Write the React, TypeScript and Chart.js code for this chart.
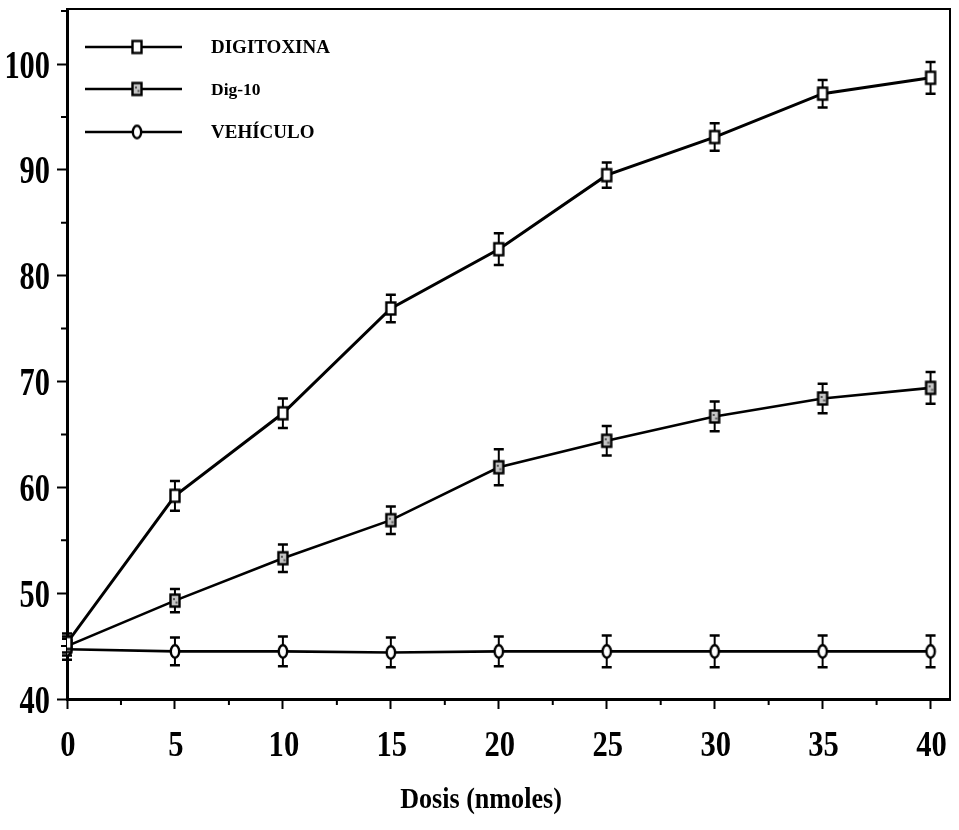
import React, { useEffect, useRef } from 'react';
import { Chart, registerables } from 'chart.js';

Chart.register(...registerables);

// ---- data ----
const doses = [0, 5, 10, 15, 20, 25, 30, 35, 40];
const seriesNames = ['DIGITOXINA', 'Dig-10', 'VEHÍCULO'];
const digitoxina = [45.3, 59.2, 67.0, 76.9, 82.5, 89.5, 93.1, 97.2, 98.7];
const digitoxinaErr = [0.9, 1.4, 1.4, 1.3, 1.5, 1.2, 1.3, 1.3, 1.5];
const dig10 = [45.0, 49.3, 53.3, 56.9, 61.9, 64.4, 66.7, 68.4, 69.4];
const dig10Err = [0.9, 1.1, 1.3, 1.3, 1.7, 1.4, 1.4, 1.4, 1.5];
const vehiculo = [44.7, 44.5, 44.5, 44.4, 44.5, 44.5, 44.5, 44.5, 44.5];
const vehiculoErr = [1.0, 1.3, 1.4, 1.4, 1.4, 1.5, 1.5, 1.5, 1.5];
const yTickValues = [40, 50, 60, 70, 80, 90, 100];
const xTickValues = [0, 5, 10, 15, 20, 25, 30, 35, 40];
const xTitle = 'Dosis (nmoles)';

const errors = [digitoxinaErr, dig10Err, vehiculoErr];
const FONT = '"Liberation Serif", "Times New Roman", serif';

function makeMarker(kind: 'rect' | 'rectGray' | 'ellipse'): HTMLCanvasElement {
  const c = document.createElement('canvas');
  c.width = 14;
  c.height = 17;
  const g = c.getContext('2d')!;
  g.lineWidth = 2.4;
  g.strokeStyle = '#000';
  if (kind === 'ellipse') {
    g.fillStyle = '#fff';
    g.beginPath();
    g.ellipse(7, 8.5, 4.2, 6.2, 0, 0, Math.PI * 2);
    g.fill();
    g.stroke();
  } else {
    g.fillStyle = kind === 'rect' ? '#fff' : '#c4c4c4';
    g.fillRect(2.5, 2.5, 9, 12);
    g.strokeRect(2.5, 2.5, 9, 12);
    if (kind === 'rectGray') {
      g.fillStyle = '#555';
      g.fillRect(5, 6, 2, 2);
      g.fillRect(7.5, 9.5, 2, 2);
    }
  }
  return c;
}

function drawCondensed(
  ctx: CanvasRenderingContext2D,
  text: string,
  x: number,
  baseline: number,
  size: number,
  sx: number,
  align: 'left' | 'center' | 'right'
) {
  ctx.save();
  ctx.font = `bold ${size}px ${FONT}`;
  ctx.fillStyle = '#000';
  ctx.textBaseline = 'alphabetic';
  ctx.textAlign = align;
  ctx.translate(x, baseline);
  ctx.scale(sx, 1);
  ctx.fillText(text, 0, 0);
  ctx.restore();
}

const errorBarPlugin = {
  id: 'errorBars',
  beforeDatasetsDraw(chart: any) {
    const ctx = chart.ctx;
    const xs = chart.scales.x;
    const ys = chart.scales.y;
    chart.data.datasets.forEach((ds: any, i: number) => {
      const errs = errors[i];
      ds.data.forEach((p: any, j: number) => {
        const px = xs.getPixelForValue(p.x);
        const top = ys.getPixelForValue(p.y + errs[j]);
        const bot = ys.getPixelForValue(p.y - errs[j]);
        ctx.save();
        ctx.strokeStyle = '#000';
        ctx.lineWidth = 2;
        ctx.beginPath();
        ctx.moveTo(px, top);
        ctx.lineTo(px, bot);
        ctx.stroke();
        ctx.lineWidth = 2.5;
        ctx.beginPath();
        ctx.moveTo(px - 5, top);
        ctx.lineTo(px + 5, top);
        ctx.moveTo(px - 5, bot);
        ctx.lineTo(px + 5, bot);
        ctx.stroke();
        ctx.restore();
      });
    });
  },
};

const framePlugin = {
  id: 'frame',
  afterDraw(chart: any) {
    const { ctx, chartArea } = chart;
    const xs = chart.scales.x;
    const ys = chart.scales.y;
    ctx.save();
    ctx.strokeStyle = '#000';
    ctx.lineWidth = 2;
    ctx.beginPath();
    ctx.moveTo(chartArea.left, chartArea.top);
    ctx.lineTo(chartArea.right, chartArea.top);
    ctx.lineTo(chartArea.right, chartArea.bottom);
    ctx.stroke();
    // minor ticks
    ctx.beginPath();
    for (let v = 45; v < ys.max; v += 10) {
      const py = ys.getPixelForValue(v);
      ctx.moveTo(chartArea.left - 6, py);
      ctx.lineTo(chartArea.left, py);
    }
    for (let v = 2.5; v < xs.max; v += 5) {
      const px = xs.getPixelForValue(v);
      ctx.moveTo(px, chartArea.bottom);
      ctx.lineTo(px, chartArea.bottom + 6);
    }
    ctx.stroke();
    ctx.restore();

    // tick labels (tall, condensed bold serif), placed through the scales
    yTickValues.forEach((v) => {
      const py = ys.getPixelForValue(v);
      drawCondensed(ctx, String(v), chartArea.left - 17, py + 13.5, 40, 0.76, 'right');
    });
    xTickValues.forEach((v) => {
      const px = xs.getPixelForValue(v);
      drawCondensed(ctx, String(v), px + 1, chartArea.bottom + 57, 36, 0.85, 'center');
    });
    // axis title
    drawCondensed(ctx, xTitle, 481, 808, 29, 0.9, 'center');
  },
};

function makeLegendPlugin(markers: HTMLCanvasElement[]) {
  const rows = [47, 89, 132];
  const sizes = [19, 17.5, 19];
  return {
    id: 'insideLegend',
    afterDraw(chart: any) {
      const ctx = chart.ctx;
      ctx.save();
      seriesNames.forEach((name, i) => {
        const y = rows[i];
        ctx.strokeStyle = '#000';
        ctx.lineWidth = 2.5;
        ctx.beginPath();
        ctx.moveTo(85, y);
        ctx.lineTo(182, y);
        ctx.stroke();
        const m = markers[i];
        ctx.drawImage(m, 137 - m.width / 2, y - m.height / 2);
        drawCondensed(ctx, name, 211, y + sizes[i] * 0.33, sizes[i], 1, 'left');
      });
      ctx.restore();
    },
  };
}

export default function App() {
  const ref = useRef<HTMLCanvasElement | null>(null);

  useEffect(() => {
    if (!ref.current) return;
    const markers = [makeMarker('rect'), makeMarker('rectGray'), makeMarker('ellipse')];
    const seriesValues = [digitoxina, dig10, vehiculo];
    const datasets = seriesValues.map((vals, i) => ({
      label: seriesNames[i],
      data: doses.map((d, j) => ({ x: d, y: vals[j] })),
      borderColor: '#000',
      backgroundColor: '#fff',
      borderWidth: i === 0 ? 3 : 2.6,
      pointStyle: markers[i],
      pointRadius: 6,
      tension: 0,
    }));

    const gridOpts = {
      display: true,
      drawOnChartArea: false,
      drawTicks: true,
      tickLength: 10,
      tickColor: '#000',
      tickWidth: 2,
      color: '#000',
    };

    const chart = new Chart(ref.current, {
      type: 'line',
      data: { datasets },
      options: {
        animation: false,
        responsive: false,
        layout: { padding: { top: 8, right: 6, left: 0, bottom: 0 } },
        plugins: {
          legend: { display: false },
          tooltip: { enabled: false },
        },
        scales: {
          x: {
            type: 'linear',
            min: 0,
            max: 40.9,
            afterFit: (s: any) => {
              s.height = 131;
              s.paddingLeft = 0;
              s.paddingRight = 0;
            },
            afterBuildTicks: (s: any) => {
              s.ticks = xTickValues.map((v) => ({ value: v }));
            },
            ticks: { display: false, autoSkip: false },
            grid: gridOpts,
            border: { display: true, color: '#000', width: 3 },
          },
          y: {
            type: 'linear',
            min: 40,
            max: 105.2,
            afterFit: (s: any) => {
              s.width = 67;
              s.paddingTop = 0;
              s.paddingBottom = 0;
            },
            afterBuildTicks: (s: any) => {
              s.ticks = yTickValues.map((v) => ({ value: v }));
            },
            ticks: { display: false, autoSkip: false },
            grid: gridOpts,
            border: { display: true, color: '#000', width: 3 },
          },
        },
      },
      plugins: [errorBarPlugin, framePlugin, makeLegendPlugin(markers)],
    });

    return () => chart.destroy();
  }, []);

  return (
    <div style={{ position: 'fixed', left: 0, top: 0, width: 959, height: 830, background: '#fff' }}>
      <canvas ref={ref} width={959} height={830} style={{ display: 'block' }} />
    </div>
  );
}
